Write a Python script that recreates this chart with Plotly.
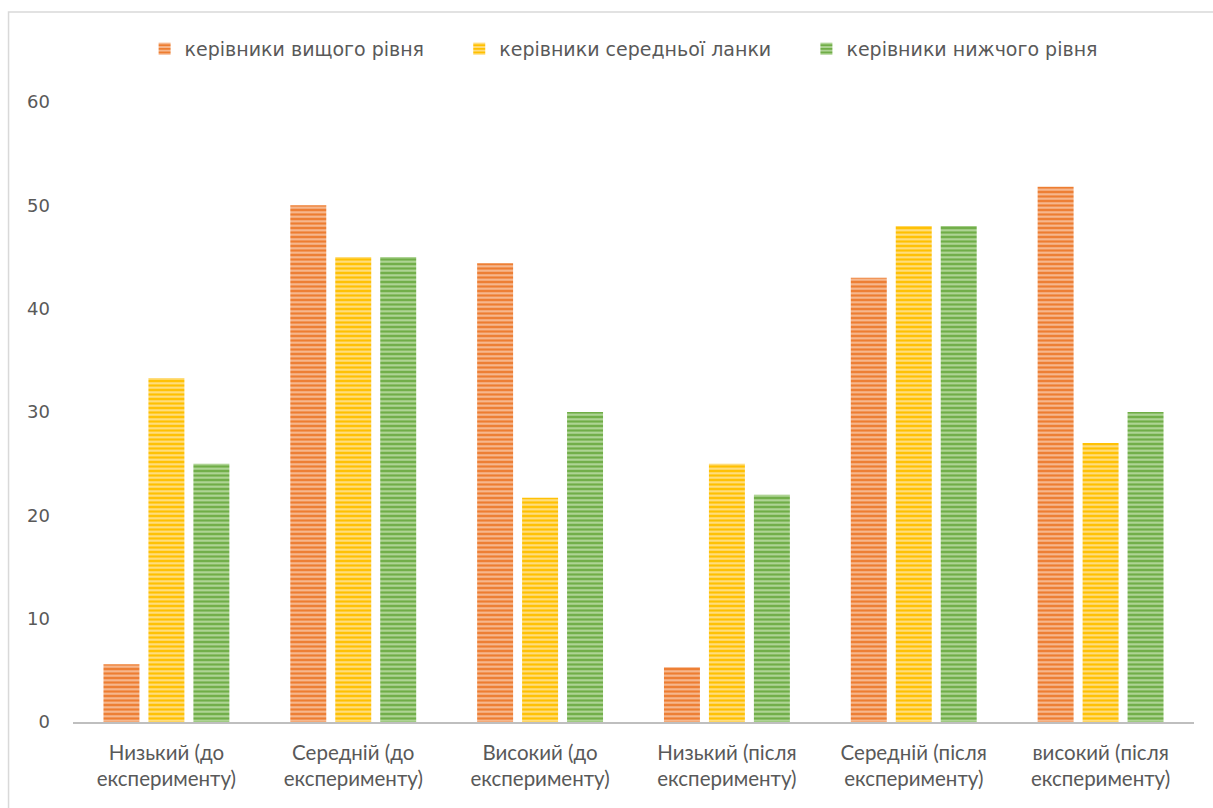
import plotly.graph_objects as go

categories = [
    "Низький (до<br>експерименту)",
    "Середній (до<br>експерименту)",
    "Високий (до<br>експерименту)",
    "Низький (після<br>експерименту)",
    "Середній (після<br>експерименту)",
    "високий (після<br>експерименту)",
]
series_names = [
    "керівники вищого рівня",
    "керівники середньої ланки",
    "керівники нижчого рівня",
]
top_level = [5.6, 50.0, 44.4, 5.3, 43.0, 51.8]
middle_level = [33.3, 45.0, 21.7, 25.0, 48.0, 27.0]
lower_level = [25.0, 45.0, 30.0, 22.0, 48.0, 30.0]
y_ticks = [0, 10, 20, 30, 40, 50, 60]

colors = ["#ED7D31", "#FFC000", "#70AD47"]
stripe = ["#F7BE98", "#FFE08A", "#B5D89D"]

fig = go.Figure()
for name, vals, c, s in zip(series_names, [top_level, middle_level, lower_level], colors, stripe):
    fig.add_trace(go.Bar(
        x=categories, y=vals, name=name + "\u00a0" * 5,
        marker=dict(
            color=c,
            line=dict(width=0),
            pattern=dict(shape="-", bgcolor=c, fgcolor=s, size=4.5, solidity=0.45, fillmode="replace"),
        ),
    ))

fig.update_layout(
    width=1213, height=808,
    margin=dict(l=72.5, r=18.5, t=102, b=86),
    paper_bgcolor="white", plot_bgcolor="white",
    barmode="group", bargap=0.278, bargroupgap=0.2,
    font=dict(family="DejaVu Sans", color="#595959"),
    legend=dict(
        orientation="h", x=0.505, xanchor="center", y=1.0855, yanchor="middle",
        font=dict(size=19, color="#595959"), itemwidth=30, traceorder="normal",
    ),
    xaxis=dict(
        showgrid=False, showline=True, linecolor="#BFBFBF", linewidth=2,
        ticks="", ticklabelstandoff=11,
        tickfont=dict(family="Lato", size=20.5, color="#595959"),
    ),
    yaxis=dict(
        range=[0, 60], tickvals=y_ticks, showgrid=False, zeroline=False, showline=False,
        ticks="", ticklabelstandoff=22, tickfont=dict(size=18, color="#595959"),
    ),
    shapes=[dict(
        type="rect", xref="paper", yref="paper",
        x0=-0.0575, x1=1.1, y0=-0.3, y1=1.1452,
        line=dict(color="#D9D9D9", width=1.5), fillcolor="rgba(0,0,0,0)", layer="below",
    )],
)

fig.write_html("out.html")
